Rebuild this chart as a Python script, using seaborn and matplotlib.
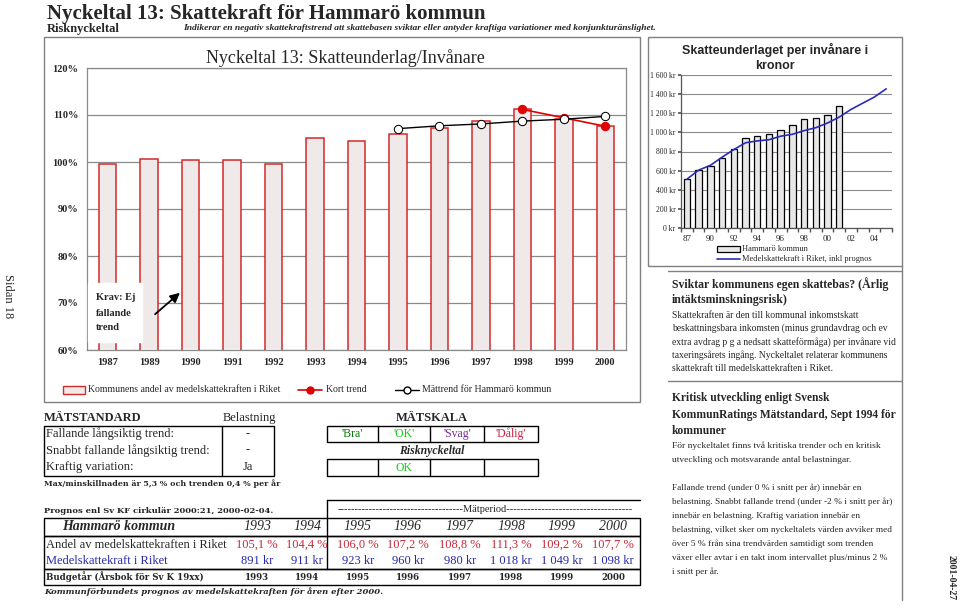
import matplotlib
matplotlib.use('Agg')
import matplotlib.pyplot as plt
import seaborn as sns
import numpy as np
from matplotlib.patches import Rectangle, FancyArrowPatch
from matplotlib.lines import Line2D

sns.set_theme(style='white')
plt.rcParams['font.family'] = ['Liberation Serif', 'DejaVu Serif']

# ---------------- data ----------------
main_years = ['1987', '1989', '1990', '1991', '1992', '1993', '1994',
              '1995', '1996', '1997', '1998', '1999', '2000']
main_share = [99.6, 100.6, 100.4, 100.4, 99.6, 105.1, 104.4,
              106.0, 107.2, 108.8, 111.3, 109.2, 107.7]
trend_years = ['1995', '1996', '1997', '1998', '1999', '2000']
trend_vals = [107.1, 107.7, 108.1, 108.7, 109.1, 109.7]
short_years = ['1998', '1999', '2000']
short_vals = [111.2, 109.4, 107.6]

kr_cats = ['87', '89', '90', '91', '92', '93', '94', '95', '96', '97',
           '98', '99', '00', '01', '02', '03', '04', '05']
kr_bar_cats = ['87', '89', '90', '91', '92', '93', '94', '95', '96', '97',
               '98', '99', '00', '01']
kr_bars = [513, 611, 653, 733, 828, 940, 957, 981, 1027, 1072,
           1135, 1146, 1184, 1278]
kr_line = [510, 605, 655, 740, 820, 891, 911, 923, 960, 980,
           1018, 1049, 1098, 1160, 1240, 1305, 1370, 1455]
kr_tick_labels = ['87', '90', '92', '94', '96', '98', '00', '02', '04']

tbl_years = ['1993', '1994', '1995', '1996', '1997', '1998', '1999', '2000']
tbl_share = [105.1, 104.4, 106.0, 107.2, 108.8, 111.3, 109.2, 107.7]
tbl_riket = [891, 911, 923, 960, 980, 1018, 1049, 1098]

scale_labels = ["'Bra'", "'OK'", "'Svag'", "'Dålig'"]
scale_colors = ['#0a7a0a', '#11cc11', '#7a2a9a', '#cc2244']

# ---------------- figure ----------------
W, H = 960, 612
fig = plt.figure(figsize=(9.6, 6.12), dpi=100)
fig.patch.set_facecolor('white')

def axpos(x0, y0, x1, y1):
    return [x0 / W, 1 - y1 / H, (x1 - x0) / W, (y1 - y0) / H]

RED = '#d42a2a'
BAR_FILL = '#efe9e9'
GRID = '#8a8a8a'
WIDE = ['DejaVu Serif']

# main chart
ax1 = fig.add_axes(axpos(87, 68, 626, 350))
sns.barplot(x=main_years, y=main_share, order=main_years, color=BAR_FILL,
            saturation=1, edgecolor=RED, linewidth=1.1, width=0.42, ax=ax1, zorder=3)
tx = [main_years.index(y) for y in trend_years]
sx = [main_years.index(y) for y in short_years]
sns.lineplot(x=sx, y=short_vals, color='#e00000', marker='o', markersize=6,
             markerfacecolor='#e00000', markeredgecolor='#e00000', linewidth=1.2,
             ax=ax1, zorder=4, legend=False)
sns.lineplot(x=tx, y=trend_vals, color='black', marker='o', markersize=6,
             markerfacecolor='white', markeredgecolor='black', linewidth=1.0,
             ax=ax1, zorder=5, legend=False)
ax1.set_ylim(60, 120)
ax1.set_xlim(-0.5, len(main_years) - 0.5)
ax1.set_yticks(np.arange(60, 121, 10))
ax1.set_yticklabels([f'{v}%' for v in range(60, 121, 10)])
ax1.set_xticks(range(len(main_years)))
ax1.set_xticklabels(main_years)
ax1.yaxis.grid(True, color=GRID, linewidth=0.9, zorder=0)
ax1.set_axisbelow(True)
ax1.set_xlabel('')
ax1.set_ylabel('')
for s in ax1.spines.values():
    s.set_color(GRID)
    s.set_linewidth(0.9)
ax1.tick_params(axis='both', length=0, labelsize=7.5, pad=6)
for lab in ax1.get_xticklabels() + ax1.get_yticklabels():
    lab.set_fontweight('bold')

# right chart
ax2 = fig.add_axes(axpos(681, 75, 892, 228))
sns.barplot(x=kr_bar_cats, y=kr_bars, order=kr_cats, color='#e8e6e6',
            saturation=1, edgecolor='black', linewidth=0.9, width=0.55, ax=ax2, zorder=3)
sns.lineplot(x=list(range(len(kr_cats))), y=kr_line, color='#2b2bb8',
             linewidth=1.2, ax=ax2, zorder=4, legend=False)
ax2.set_ylim(0, 1600)
ax2.set_xlim(-0.5, len(kr_cats) - 0.5)
ax2.set_yticks(np.arange(0, 1601, 200))
ax2.set_yticklabels([('{:,}'.format(v).replace(',', ' ') + ' kr') for v in range(0, 1601, 200)])
ax2.set_xticks([kr_cats.index(c) for c in kr_tick_labels])
ax2.set_xticklabels(kr_tick_labels)
ax2.set_xticks(np.arange(-0.5, len(kr_cats), 1), minor=True)
ax2.yaxis.grid(True, color=GRID, linewidth=0.8, zorder=0)
ax2.set_axisbelow(True)
ax2.set_xlabel('')
ax2.set_ylabel('')
for k in ['top', 'right']:
    ax2.spines[k].set_visible(False)
for k in ['left', 'bottom']:
    ax2.spines[k].set_color('#555555')
    ax2.spines[k].set_linewidth(0.9)
ax2.tick_params(axis='y', length=2, labelsize=5.5, pad=2, left=True, color='#555555')
ax2.tick_params(axis='x', which='major', length=0, labelsize=6.5, pad=5)
ax2.tick_params(axis='x', which='minor', length=3, bottom=True, color='#555555')

# ---------------- overlay ----------------
ov = fig.add_axes([0, 0, 1, 1], zorder=10)
ov.set_xlim(0, W)
ov.set_ylim(H, 0)
ov.axis('off')
ov.patch.set_alpha(0)

def T(x, y, s, size=7, ha='left', va='center', **kw):
    ov.text(x, y, s, fontsize=size, ha=ha, va=va, **kw)

def box(x0, y0, x1, y1, ec='#808080', lw=1.0, fc='none', z=1):
    ov.add_patch(Rectangle((x0, y0), x1 - x0, y1 - y0, fill=(fc != 'none'),
                           facecolor=fc, edgecolor=ec, linewidth=lw, zorder=z))

def hline(x0, x1, y, c='#808080', lw=1.0):
    ov.add_line(Line2D([x0, x1], [y, y], color=c, linewidth=lw))

def vline(x, y0, y1, c='#808080', lw=1.0):
    ov.add_line(Line2D([x, x], [y0, y1], color=c, linewidth=lw))

# header
T(47, 14, 'Nyckeltal 13: Skattekraft för Hammarö kommun', size=15, fontweight='bold')
T(47, 29, 'Risknyckeltal', size=9, fontweight='bold')
T(183, 28, 'Indikerar en negativ skattekraftstrend att skattebasen sviktar eller antyder '
           'kraftiga variationer med konjunkturänslighet.', size=6.8,
  fontweight='bold', fontstyle='italic')
T(8, 296, 'Sidan 18', size=9, rotation=-90, ha='center')
T(951, 578, '2001-04-27', size=7, rotation=-90, ha='center', fontweight='bold')

# main chart frame and title
box(44, 37, 640, 402)
T(345, 58, 'Nyckeltal 13: Skatteunderlag/Invånare', size=13, ha='center')

# Krav annotation
box(88, 283, 142, 342, ec='white', fc='white', z=2)
T(96, 298, 'Krav: Ej', size=7.5, fontweight='bold')
T(96, 313, 'fallande', size=7.5, fontweight='bold')
T(96, 328, 'trend', size=7.5, fontweight='bold')
ov.add_patch(FancyArrowPatch((153, 316), (182, 291), arrowstyle='-|>',
                             mutation_scale=14, color='black', linewidth=1.3, zorder=3))

# main legend
box(63, 386, 85, 394, ec=RED, fc=BAR_FILL, lw=1.0)
T(88, 390, 'Kommunens andel av medelskattekraften i Riket', size=7)
ov.add_line(Line2D([298, 322], [390, 390], color='#e00000', linewidth=1.2))
ov.add_line(Line2D([310], [390], color='#e00000', marker='o', markersize=5,
                   markerfacecolor='#e00000', markeredgecolor='#e00000'))
T(326, 390, 'Kort trend', size=7)
ov.add_line(Line2D([395, 419], [390, 390], color='black', linewidth=1.0))
ov.add_line(Line2D([407], [390], color='black', marker='o', markersize=5,
                   markerfacecolor='white', markeredgecolor='black'))
T(422, 390, 'Mättrend för Hammarö kommun', size=7)

# right chart frame, title, legend
box(648, 37, 902, 266)
T(775, 50, 'Skatteunderlaget per invånare i', size=9, ha='center',
  fontweight='bold', family=['Liberation Sans', 'DejaVu Sans'])
T(775, 66, 'kronor', size=9, ha='center', fontweight='bold',
  family=['Liberation Sans', 'DejaVu Sans'])
box(717, 246, 740, 252, ec='black', fc='#e8e6e6', lw=0.9)
T(742, 249, 'Hammarö kommun', size=6)
ov.add_line(Line2D([717, 740], [259, 259], color='#2b2bb8', linewidth=1.2))
T(742, 259, 'Medelskattekraft i Riket, inkl prognos', size=6)

# right text panel
hline(668, 902, 271)
vline(902, 266, 600)
hline(668, 902, 381)
T(672, 284, 'Sviktar kommunens egen skattebas? (Årlig', size=8.5, fontweight='bold')
T(672, 300, 'intäktsminskningsrisk)', size=8.5, fontweight='bold')
body1 = ['Skattekraften är den till kommunal inkomstskatt',
         'beskattningsbara inkomsten (minus grundavdrag och ev',
         'extra avdrag p g a nedsatt skatteförmåga) per invånare vid',
         'taxeringsårets ingång. Nyckeltalet relaterar kommunens',
         'skattekraft till medelskattekraften i Riket.']
for i, s in enumerate(body1):
    T(672, 315 + i * 13.4, s, size=6.9)

T(672, 398, 'Kritisk utveckling enligt Svensk', size=8.3, fontweight='bold')
T(672, 415, 'KommunRatings Mätstandard, Sept 1994 för', size=8.3, fontweight='bold')
T(672, 431, 'kommuner', size=8.3, fontweight='bold')
T(672, 446, 'För nyckeltalet finns två kritiska trender och en kritisk', size=6.8)
T(672, 460, 'utveckling och motsvarande antal belastningar.', size=6.8)
body2 = ['Fallande trend (under 0 % i snitt per år) innebär en',
         'belastning. Snabbt fallande trend (under -2 % i snitt per år)',
         'innebär en belastning. Kraftig variation innebär en',
         'belastning, vilket sker om nyckeltalets värden avviker med',
         'över 5 % från sina trendvärden samtidigt som trenden',
         'växer eller avtar i en takt inom intervallet plus/minus 2 %',
         'i snitt per år.']
for i, s in enumerate(body2):
    T(672, 488 + i * 14.0, s, size=6.7)

# Mätstandard table
T(44, 418, 'MÄTSTANDARD', size=9, fontweight='bold')
T(249, 418, 'Belastning', size=9, ha='center')
box(44, 426, 274, 476, ec='black', lw=1.0)
vline(222, 426, 476, c='black')
rows = ['Fallande långsiktig trend:', 'Snabbt fallande långsiktig trend:', 'Kraftig variation:']
vals = ['-', '-', 'Ja']
for i, (r, v) in enumerate(zip(rows, vals)):
    T(46, 434 + i * 16.5, r, size=9)
    T(248, 434 + i * 16.5, v, size=9, ha='center')

T(432, 418, 'MÄTSKALA', size=9, fontweight='bold', ha='center')
edges = [327, 378, 430, 484, 538]
box(edges[0], 426, edges[-1], 442, ec='black')
box(edges[0], 459, edges[-1], 476, ec='black')
for e in edges[1:-1]:
    vline(e, 426, 442, c='black')
    vline(e, 459, 476, c='black')
for i, (s, c) in enumerate(zip(scale_labels, scale_colors)):
    T((edges[i] + edges[i + 1]) / 2, 434, s, size=8.5, ha='center', color=c)
T(432, 451, 'Risknyckeltal', size=8.5, fontweight='bold', fontstyle='italic', ha='center')
T((edges[1] + edges[2]) / 2, 468, 'OK', size=8.5, ha='center', color=scale_colors[1])

T(44, 484, 'Max/minskillnaden är 5,3 % och trenden 0,4 % per år', size=5.7,
  fontweight='bold', family=WIDE)

# bottom table
T(44, 511, 'Prognos enl Sv KF cirkulär 2000:21, 2000-02-04.', size=6.0,
  fontweight='bold', family=WIDE)
hline(327, 640, 500, c='black')
vline(327, 500, 569, c='black')
T(485, 510, '-' * 36 + 'Mätperiod' + '-' * 36, size=7.5, ha='center')
box(44, 518, 640, 536, ec='black')
box(44, 536, 640, 569, ec='black')
box(44, 569, 640, 585, ec='black')
T(62, 527, 'Hammarö kommun', size=10, fontweight='bold', fontstyle='italic')
T(46, 545, 'Andel av medelskattekraften i Riket', size=9)
T(46, 561, 'Medelskattekraft i Riket', size=9, color='#2626b0')
T(46, 577, 'Budgetår (Årsbok för Sv K 19xx)', size=6.2, fontweight='bold', family=WIDE)
col_x = [257, 307, 358, 408, 460, 511, 562, 613]
for x, y, a, r in zip(col_x, tbl_years, tbl_share, tbl_riket):
    T(x, 527, y, size=10, fontstyle='italic', ha='center')
    T(x, 545, f'{a:.1f}'.replace('.', ',') + ' %', size=9, ha='center', color='#c8283c')
    T(x, 561, '{:,}'.format(r).replace(',', ' ') + ' kr', size=9, ha='center', color='#2626b0')
    T(x, 577, y, size=6.2, ha='center', fontweight='bold', family=WIDE)
T(44, 592, 'Kommunförbundets prognos av medelskattekraften för åren efter 2000.',
  size=6.0, fontweight='bold', fontstyle='italic', family=WIDE)

fig.savefig('out.png', dpi=100, facecolor='white')
